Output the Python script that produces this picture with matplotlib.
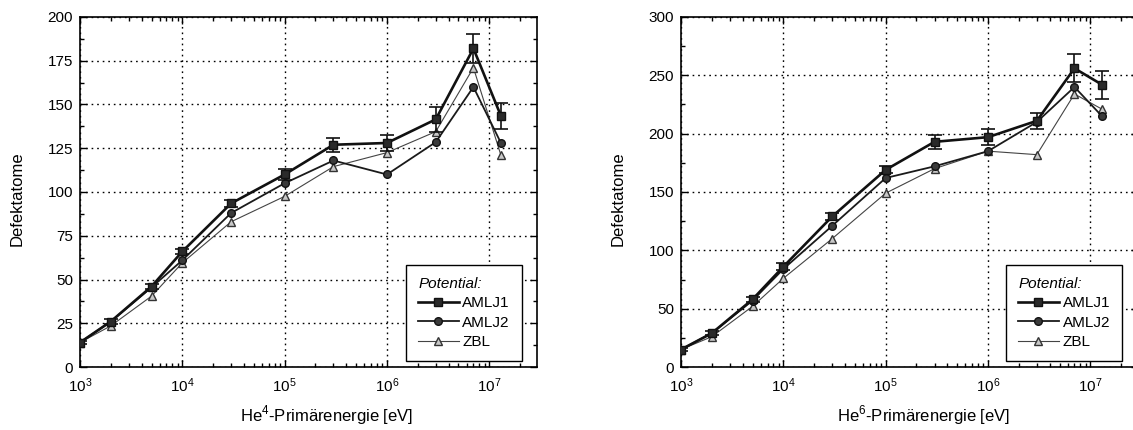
import matplotlib.pyplot as plt
from matplotlib.lines import Line2D
from matplotlib.ticker import MultipleLocator, LogLocator, NullFormatter

plt.rcParams['font.family'] = ['Liberation Sans', 'DejaVu Sans']
plt.rcParams['mathtext.fontset'] = 'custom'
plt.rcParams['mathtext.rm'] = 'Liberation Sans'

# Primärenergie in eV
energy = [1e3, 2e3, 5e3, 1e4, 3e4, 1e5, 3e5, 1e6, 3e6, 7e6, 1.3e7]

# He4
he4_amlj1 = [14, 26, 46, 66, 93.5, 110, 127, 128, 141.5, 182, 143.5]
he4_amlj1_err = [1, 1.5, 1.5, 1.5, 2, 3, 4, 4.5, 7, 8.5, 7.5]
he4_amlj2 = [14, 26, 45.5, 61, 88, 105, 118, 110, 128.5, 160, 128]
he4_zbl = [14, 23.5, 40.5, 59.5, 83, 97.5, 114.5, 122.5, 134.5, 171, 121]

# He6
he6_amlj1 = [15, 29, 58, 86, 129, 169, 193, 197, 211, 256, 242]
he6_amlj1_err = [1, 1.5, 2, 3, 3, 3, 6, 7, 7, 12, 12]
he6_amlj2 = [15, 29, 57, 84, 121, 162, 172, 185, 210, 240, 215]
he6_zbl = [15, 26, 52, 76, 110, 149, 170, 185, 182, 234, 221]

st1 = dict(color='#111111', lw=1.9, marker='s', ms=5.5, mfc='#2a2a2a', mec='#111111')
st2 = dict(color='#1a1a1a', lw=1.3, marker='o', ms=5.5, mfc='#3a3a3a', mec='#111111')
st3 = dict(color='#444444', lw=0.8, marker='^', ms=6, mfc='#c8c8c8', mec='#333333')


def draw(ax, amlj1, err, amlj2, zbl, ymax, ystep, xlabel, xlab_x, leg_x):
    ax.errorbar(energy, amlj1, yerr=err, capsize=5, elinewidth=1.2, capthick=1.2,
                ecolor='#111111', zorder=4, **st1)
    ax.plot(energy, amlj2, zorder=3, **st2)
    ax.plot(energy, zbl, zorder=2, **st3)
    ax.set_xscale('log')
    ax.set_xlim(1e3, 2.93e7)
    ax.set_ylim(0, ymax)
    ax.yaxis.set_major_locator(MultipleLocator(ystep))
    ax.yaxis.set_minor_locator(MultipleLocator(ystep / 2))
    ax.xaxis.set_major_locator(LogLocator(base=10, numticks=12))
    ax.xaxis.set_minor_locator(LogLocator(base=10, subs=range(2, 10), numticks=12))
    ax.xaxis.set_minor_formatter(NullFormatter())
    ax.grid(True, which='major', color='black', linestyle=(0, (1.2, 2.8)), lw=1.0)
    ax.tick_params(which='both', direction='in', top=True, right=True, labelsize=11)
    ax.tick_params(which='major', length=5, width=1)
    ax.tick_params(which='minor', length=3, width=1)
    ax.tick_params(axis='x', which='major', pad=7)
    ax.tick_params(axis='y', which='major', pad=5)
    for s in ax.spines.values():
        s.set_linewidth(1.2)
    ax.set_ylabel('Defektatome', fontsize=12, va='center')
    ax.yaxis.set_label_coords(-0.137, 0.48)
    ax.set_xlabel(xlabel, fontsize=12, va='center')
    ax.xaxis.set_label_coords(xlab_x, -0.137)
    handles = [Line2D([], [], **st1), Line2D([], [], **st2), Line2D([], [], **st3)]
    leg = ax.legend(handles, ['AMLJ1', 'AMLJ2', 'ZBL'], title='Potential:',
                    loc='lower left', bbox_to_anchor=(leg_x, 0.016), borderaxespad=0,
                    fancybox=False, framealpha=1, edgecolor='black', fontsize=11,
                    handlelength=2.65, borderpad=0.8, labelspacing=0.35,
                    handletextpad=0.25, alignment='left')
    leg.get_frame().set_linewidth(1.0)
    leg.get_title().set_fontstyle('italic')
    leg.get_title().set_fontsize(11)


fig = plt.figure(figsize=(11.33, 4.30), dpi=100)
ax1 = fig.add_axes([0.0706, 0.1465, 0.4034, 0.814])
ax2 = fig.add_axes([0.6011, 0.1465, 0.4034, 0.814])

draw(ax1, he4_amlj1, he4_amlj1_err, he4_amlj2, he4_zbl, 200, 25,
     'He$^{4}$-Primärenergie [eV]', 0.54, 0.713)
draw(ax2, he6_amlj1, he6_amlj1_err, he6_amlj2, he6_zbl, 300, 50,
     'He$^{6}$-Primärenergie [eV]', 0.53, 0.711)

fig.savefig('out.png', dpi=100)
